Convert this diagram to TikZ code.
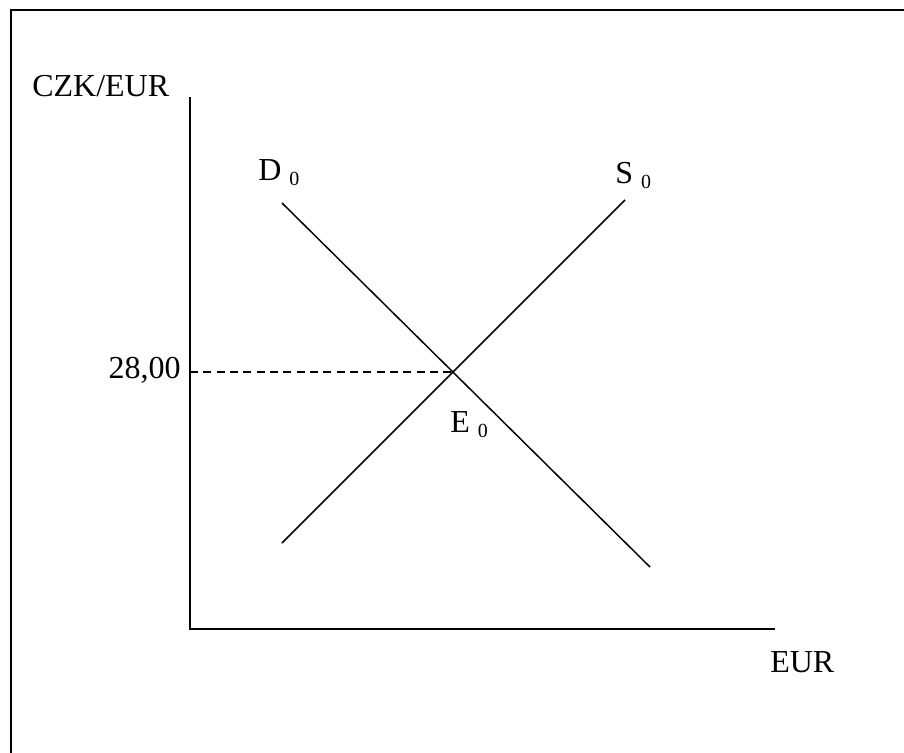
\documentclass[tikz,border=0pt]{standalone}
\usepackage{fontspec}
\setmainfont{Liberation Serif}
\usetikzlibrary{calc,positioning}
\newcommand{\subnum}[1]{\raisebox{-3.8pt}{\fontsize{15}{15}\selectfont #1}}

\begin{document}
\begin{tikzpicture}[x=0.75pt,y=-0.75pt,
  axis/.style={line width=1.5pt},
  curve/.style={line width=1.1pt},
  lbl/.style={inner sep=0pt,anchor=base west,font=\fontsize{24}{28}\selectfont}]
\useasboundingbox (0,0) rectangle (904,753);
% frame
\draw[axis] (11,753) -- (11,9.5) -- (904,9.5);
% axes
\coordinate (O) at (190,629);
\coordinate (ytop) at (190,97);
\coordinate (xend) at (775,629);
\draw[axis] (ytop) -- (O) -- (xend);
% demand and supply
\coordinate (d0a) at (282,203);
\coordinate (d0b) at (650,567);
\coordinate (s0a) at (625,200);
\coordinate (s0b) at (282,543);
\draw[curve] (d0a) -- (d0b);
\draw[curve] (s0a) -- (s0b);
\coordinate (E0) at (intersection of d0a--d0b and s0a--s0b);
\draw[line width=1pt,dash pattern=on 6pt off 4pt] (E0 -| O) -- (E0);
% labels
\node[lbl] (ylab) at (32,96) {CZK/EUR};
\node[lbl] (xlab) at (770,672) {EUR};
\node[lbl] (dlab) at (258,180) {D \subnum{0}};
\node[lbl] (slab) at (615,183) {S \subnum{0}};
\node[lbl] (elab) at (450,432) {E \subnum{0}};
\node[lbl,anchor=base east] (price) at (181,378) {28,00};
\end{tikzpicture}
\end{document}
